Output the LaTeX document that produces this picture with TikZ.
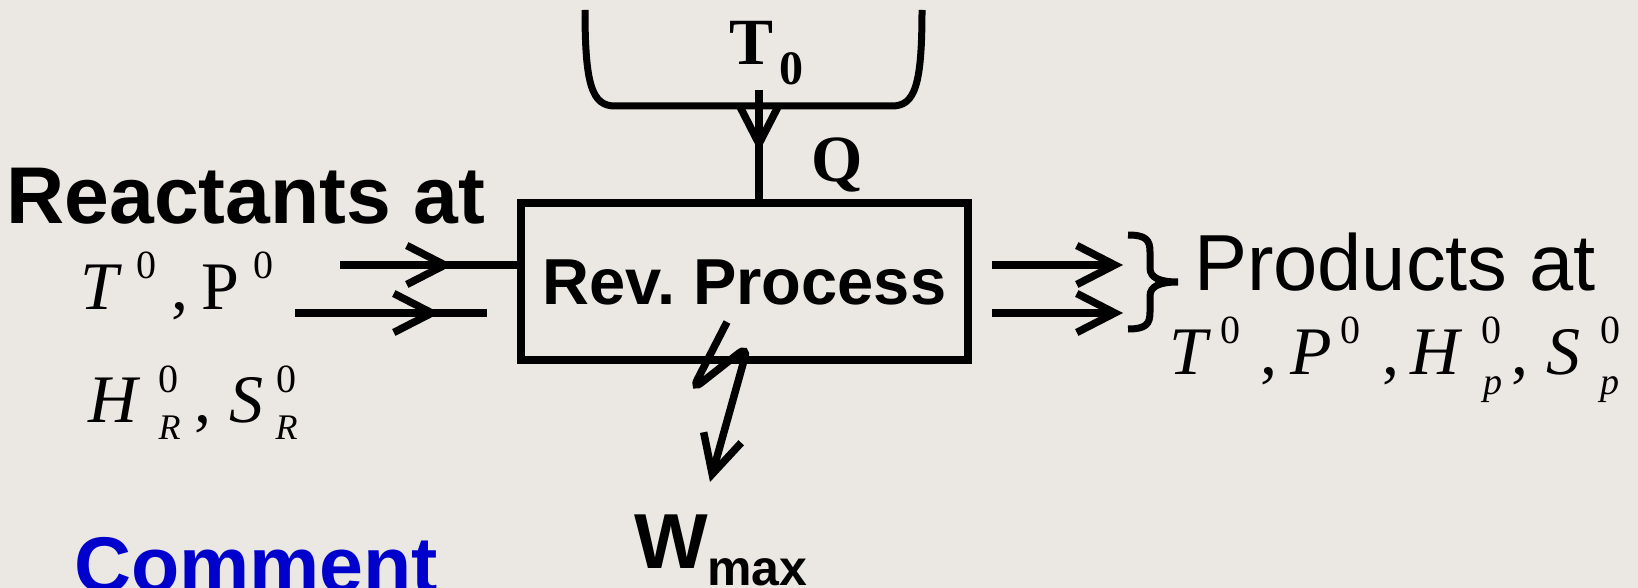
\documentclass[tikz,border=0pt]{standalone}
\usepackage{fontspec}
\setmainfont{Liberation Serif}
\newfontfamily\ars{Liberation Sans}
\newfontfamily\tms{Liberation Serif}
\usetikzlibrary{arrows.meta}
\definecolor{bg}{RGB}{235,231,227}
\definecolor{cblue}{RGB}{0,0,204}
\newcommand\fs[1]{\fontsize{#1}{#1}\selectfont}
\newcommand\gl[3]{\rlap{\hspace*{#1pt}\raisebox{#2pt}{#3}}}
\begin{document}
\begin{tikzpicture}[x=1pt,y=-1pt,
  stroke/.style={line width=7.5pt},
  barb/.style={-{Straight Barb[length=38pt,width=39pt]}},
  lbl/.style={inner sep=0pt, outer sep=0pt, anchor=base west}]
\fill[bg] (0,0) rectangle (1638,588);
\useasboundingbox (0,0) rectangle (1638,588);

% reservoir
\draw[line width=7pt] (585,10) .. controls (585,85) and (592,106) .. (615,106) -- (892,106) .. controls (915,106) and (922,85) .. (922,10);
\node[lbl] (t0) at (0,65) {\gl{729}{0}{\tms\bfseries\fs{66}T}\gl{779}{-20}{\tms\bfseries\fs{48}0}};
\node[lbl] (q) at (0,182) {\gl{811}{0}{\tms\bfseries\fs{66}Q}};

% process box
\node[draw, line width=7.5pt, minimum width=447pt, minimum height=157pt, inner sep=0pt,
      text height=46pt, text depth=0pt, font=\ars\bfseries\fs{65}] (box) at (744.5,281.5) {Rev.\ Process};

% heat arrow
\coordinate (qs) at (759,90);
\coordinate (qt) at (759,152);
\draw[stroke] (qs) -- (qs |- box.north);
\draw[stroke,barb] (qs) -- (qt);

% inlet arrows
\coordinate (a1) at (340,265);
\coordinate (a1t) at (453,265);
\coordinate (a2) at (295,313);
\coordinate (a2t) at (440,313);
\coordinate (a2e) at (487,313);
\draw[stroke] (a1) -- (a1 -| box.west);
\draw[stroke,barb] (a1) -- (a1t);
\draw[stroke] (a2) -- (a2e);
\draw[stroke,barb] (a2) -- (a2t);

% outlet arrows
\coordinate (b1) at (992,265);
\coordinate (b1t) at (1123,265);
\coordinate (b2) at (992,313);
\coordinate (b2t) at (1123,313);
\draw[stroke,barb] (b1) -- (b1t);
\draw[stroke,barb] (b2) -- (b2t);

% brace
\draw[line width=7pt] (1128,235) .. controls (1146,235) and (1150,240) .. (1150,252) -- (1150,268)
  .. controls (1150,278) and (1160,282) .. (1178,282)
  .. controls (1160,282) and (1150,286) .. (1150,296) -- (1150,312)
  .. controls (1150,324) and (1146,329) .. (1128,329);

% work arrow
\coordinate (w0) at (727,322);
\coordinate (wt) at (710,482);
\draw[stroke, rounded corners=12pt, barb] (w0) -- (692,390) -- (748,346) -- (wt);

% labels
\node[lbl, font=\ars\bfseries\fs{80.5}] (react) at (6.5,223) {Reactants at};
\node[lbl] (rl1) at (0,309) {\gl{80}{0}{\fs{68}\itshape T}\gl{136}{31}{\fs{40}0}\gl{171}{0}{\fs{68},}\gl{201}{0}{\fs{68}P}\gl{253}{31}{\fs{40}0}};
\node[lbl] (rl2) at (0,422) {\gl{88}{0}{\fs{68}\itshape H}\gl{158}{30}{\fs{40}0}\gl{158}{-17}{\fs{36}\itshape R}\gl{194}{0}{\fs{68},}\gl{229}{0}{\fs{68}\itshape S}\gl{276}{30}{\fs{40}0}\gl{275}{-17}{\fs{36}\itshape R}};

\node[lbl, font=\ars\fs{79.5}] (prod) at (1194,290) {Products at};
\node[lbl] (pl) at (0,374) {\gl{1169}{0}{\fs{68}\itshape T}\gl{1220}{31}{\fs{40}0}\gl{1260}{0}{\fs{68},}\gl{1290}{0}{\fs{68}\itshape P}\gl{1340}{31}{\fs{40}0}\gl{1382}{0}{\fs{68},}\gl{1410}{0}{\fs{68}\itshape H}\gl{1481}{31}{\fs{40}0}\gl{1483}{-20}{\fs{38}\itshape p}\gl{1511}{0}{\fs{68},}\gl{1546}{0}{\fs{68}\itshape S}\gl{1600}{31}{\fs{40}0}\gl{1600}{-20}{\fs{38}\itshape p}};

\node[lbl, font=\ars\bfseries\fs{78}] (w) at (634,568) {W};
\node[lbl, font=\ars\bfseries\fs{50}] (wmax) at (707,585) {max};
\node[lbl, font=\ars\bfseries\fs{79}, text=cblue] (comment) at (74,592) {Comment};
\end{tikzpicture}
\end{document}
